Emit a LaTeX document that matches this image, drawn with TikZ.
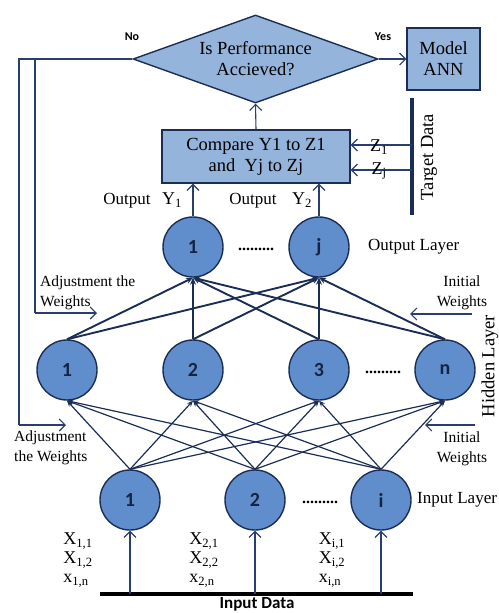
\documentclass[tikz,border=0pt]{standalone}
\usepackage{fontspec}
\setmainfont{Liberation Serif}
\newfontfamily\labelsans{Carlito}
\usetikzlibrary{shapes.geometric,arrows.meta}

\definecolor{navy}{RGB}{28,45,85}
\definecolor{flowline}{RGB}{40,62,110}
\definecolor{boxfill}{RGB}{149,180,220}
\definecolor{neuronfill}{RGB}{96,142,205}

\tikzset{
  neuron/.style={circle, draw=navy, line width=1.4pt, fill=neuronfill,
    minimum size=60pt, inner sep=0pt, font=\labelsans\bfseries\fontsize{20}{20}\selectfont, text=navy!80!black},
  flowbox/.style={rectangle, draw=navy, line width=1.4pt, fill=boxfill,
    align=center, font=\fontsize{18.5}{21}\selectfont, inner sep=0pt},
  decision/.style={diamond, draw=navy, line width=1.4pt, fill=boxfill,
    align=center, font=\fontsize{18.5}{21}\selectfont, inner sep=0pt,
    minimum width=245pt, minimum height=88pt, aspect=2.78},
  flow/.style={draw=flowline, line width=1.1pt, -{Straight Barb[length=6pt,width=12pt,line width=1.1pt]}},
  flowplain/.style={draw=flowline, line width=1.1pt},
  strong/.style={draw=navy, line width=1.9pt, -{Stealth[length=7pt,width=6pt]}},
  thin/.style={draw=navy, line width=1.2pt, -{Stealth[length=6pt,width=5pt]}},
  lbl/.style={font=\fontsize{17}{19}\selectfont, inner sep=0pt},
  xlbl/.style={font=\fontsize{18}{19}\selectfont, inner sep=0pt, align=left},
  small/.style={font=\fontsize{15.5}{20}\selectfont, inner sep=0pt},
  tag/.style={font=\labelsans\bfseries\fontsize{12}{12}\selectfont, inner sep=0pt},
  dots/.style={font=\bfseries\fontsize{16}{16}\selectfont, inner sep=0pt},
}

\begin{document}
\begin{tikzpicture}[x=1pt,y=-1pt]
\useasboundingbox (0,0) rectangle (498,613);

% decision and result boxes
\node[decision] (perf) at (255.5,59) {Is Performance\\Accieved?};
\node[flowbox, minimum width=73pt, minimum height=62pt] (model) at (443.5,59) {Model\\ANN};
\node[flowbox, minimum width=188pt, minimum height=53pt] (cmp) at (256,156.5) {Compare Y1 to Z1\\and\ \ Yj to Zj};

\node[tag] (no) at (132,37) {No};
\node[tag] (yes) at (383,37) {Yes};

\draw[flow] (perf.east) -- (model.west);
\draw[flow] (cmp.north) -- (perf.south);

% target data bar
\coordinate (tdtop) at (412,98);
\coordinate (tdbot) at (412,215);
\draw[navy, line width=3.5pt] (tdtop) -- (tdbot);
\node[lbl, rotate=90, font=\fontsize{18.5}{19}\selectfont] (tdata) at (429,157) {Target Data};
\coordinate (z1s) at (412,145);
\coordinate (zjs) at (412,170);
\draw[flow] (z1s) -- (z1s -| cmp.east);
\draw[flow] (zjs) -- (zjs -| cmp.east);
\node[lbl, font=\fontsize{18}{19}\selectfont] (z1) at (379,147) {Z\textsubscript{1}};
\node[lbl, font=\fontsize{18}{19}\selectfont] (zj) at (379,171) {Z\textsubscript{j}};

% output layer
\node[neuron] (o1) at (193,247) {1};
\node[neuron] (oj) at (319,247) {j};
\node[dots] (odots) at (256,249) {.........};
\node[lbl, anchor=west] (olayer) at (368,247) {Output Layer};

\draw[flow] (o1.north) -- (o1.north |- cmp.south);
\draw[flow] (oj.north) -- (oj.north |- cmp.south);
\node[lbl] (out1) at (127,201) {Output};
\node[lbl, font=\fontsize{18}{19}\selectfont] (y1) at (172,200) {Y\textsubscript{1}};
\node[lbl] (out2) at (253,201) {Output};
\node[lbl, font=\fontsize{18}{19}\selectfont] (y2) at (302,200) {Y\textsubscript{2}};

% hidden layer
\node[neuron] (h1) at (67,370) {1};
\node[neuron] (h2) at (193,370) {2};
\node[neuron] (h3) at (319,370) {3};
\node[neuron] (hn) at (445,370) {n};
\node[dots] (hdots) at (383,372) {.........};
\node[lbl, rotate=90, font=\fontsize{18.5}{19}\selectfont] (hlayer) at (490,366) {Hidden Layer};

% input layer
\node[neuron] (i1) at (130,500) {1};
\node[neuron] (i2) at (255,500) {2};
\node[neuron] (ii) at (381,500) {i};
\node[dots] (idots) at (320,502) {.........};
\node[lbl, anchor=west] (ilayer) at (417,500) {Input Layer};

% hidden -> output connections
\foreach \h in {h1,h2,h3,hn}{
  \foreach \o in {o1,oj}{
    \draw[strong] (\h.north) -- (\o.south);
  }
}

% input -> hidden connections
\foreach \i in {i1,i2,ii}{
  \foreach \h in {h1,h2,h3,hn}{
    \draw[thin] (\i.north) -- (\h.south);
  }
}

% input data bar and input arrows
\coordinate (ibl) at (100,594);
\coordinate (ibr) at (413,594);
\draw[black, line width=3.5pt] (ibl) -- (ibr);
\node[font=\labelsans\bfseries\fontsize{17}{17}\selectfont, inner sep=0pt] (idata) at (257,604) {Input Data};
\foreach \n in {i1,i2,ii}{
  \draw[flow] (\n.south |- ibl) -- (\n.south);
}

\node[xlbl] (x1) at (78,560) {X\textsubscript{1,1}\\X\textsubscript{1,2}\\x\textsubscript{1,n}};
\node[xlbl] (x2) at (204,560) {X\textsubscript{2,1}\\X\textsubscript{2,2}\\x\textsubscript{2,n}};
\node[xlbl] (xi) at (332,560) {X\textsubscript{i,1}\\X\textsubscript{i,2}\\x\textsubscript{i,n}};

% feedback from the decision ("No" branch)
\coordinate (fbcorner) at (19,59);
\coordinate (fbsplit) at (35,59);
\coordinate (fbouter) at (19,425);
\coordinate (fbinner) at (35,313);
\coordinate (adjlow) at (66,425);
\coordinate (adjup) at (97,313);
\draw[flowplain] (perf.west) -- (fbcorner) -- (fbouter);
\draw[flow] (fbouter) -- (adjlow);
\draw[flowplain] (fbsplit) -- (fbinner);
\draw[flow] (fbinner) -- (adjup);
\node[small, align=left, anchor=west] (adj1) at (40,293) {Adjustment the\\Weights};
\node[small, align=left, anchor=west] (adj2) at (14,448) {Adjustment\\the Weights};

% initial weights
\coordinate (iwup) at (472,314);
\coordinate (iwupend) at (410,314);
\coordinate (iwlow) at (475,425);
\coordinate (iwlowend) at (425,425);
\draw[flow] (iwup) -- (iwupend);
\draw[flow] (iwlow) -- (iwlowend);
\node[small, align=center] (iw1) at (462,293) {Initial\\Weights};
\node[small, align=center] (iw2) at (462,449) {Initial\\Weights};
\end{tikzpicture}
\end{document}
